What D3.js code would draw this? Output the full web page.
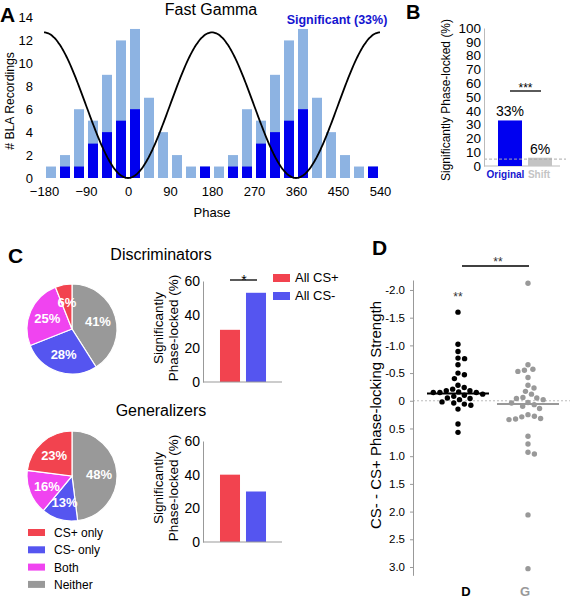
<!DOCTYPE html>
<html><head><meta charset="utf-8">
<script src="https://cdn.jsdelivr.net/npm/d3@7"></script>
<style>body{margin:0;background:#fff} svg{display:block}</style>
</head><body><svg id="c" width="570" height="599"></svg>
<script>
// ---------- DATA ----------
// Panel A
const phaseTicks = [-180,-90,0,90,180,270,360,450,540];
const binCenters = [-165,-135,-105,-75,-45,-15,15,45,75,105,135,165];
const totalCounts = [1,2,6,5,9,12,13,7,4,2,1,1];
const sigCounts   = [0,1,1,3,4,5,6,0,0,0,0,1];
const cycles = [0,360];
const countTicks = [0,2,4,6,8,10,12,14];
const waveAmplitude = 12.7;
// Panel B
const shiftCats = ["Original","Shift"];
const shiftValues = [33,6];
const shiftLabels = ["33%","6%"];
const chanceLevel = 5;
const pctTicks = [0,10,20,30,40,50,60,70,80,90,100];
// Panel C
const pieCats = ["Neither","CS- only","Both","CS+ only"];
const discPie = [41,28,25,6];
const genPie  = [48,13,16,23];
const legendOrder = ["CS+ only","CS- only","Both","Neither"];
const csCats = ["All CS+","All CS-"];
const discBars = [31,53];
const genBars  = [40,30];
const cTicks = [0,20,40,60];
// Panel D
const groups = ["D","G"];
const dValues = [-1.60,-1.02,-0.89,-0.77,-0.76,-0.65,-0.50,-0.47,-0.40,-0.28,-0.24,-0.21,-0.18,-0.18,-0.16,-0.15,-0.15,-0.15,-0.12,-0.10,-0.08,-0.05,-0.04,-0.02,0.02,0.04,0.06,0.08,0.15,0.42,0.57];
const gValues = [-2.12,-0.65,-0.57,-0.55,-0.53,-0.42,-0.28,-0.23,-0.17,-0.12,-0.06,-0.05,-0.04,-0.02,0.03,0.04,0.07,0.10,0.14,0.25,0.28,0.29,0.32,0.33,0.34,0.64,0.78,0.93,0.96,2.06,3.03];
const groupMedians = [-0.13, 0.06];
const strengthTicks = [-2,-1.5,-1,-0.5,0,0.5,1,1.5,2,2.5,3];

// ---------- STYLE ----------
const F = '"Liberation Sans", Arial, Helvetica, sans-serif';
const colLight = "#8db3e2", colDark = "#0000ee";
const pieColor = d3.scaleOrdinal(pieCats, ["#999999","#5555f0","#f044f0","#f2434f"]);
const csColor = d3.scaleOrdinal(csCats, ["#f2434f","#5555f0"]);
const svg = d3.select("#c");

function txt(g, x, y, s, opt={}) {
  return g.append("text").attr("x",x).attr("y",y).text(s)
    .attr("font-family",F).attr("font-size",opt.size||13)
    .attr("font-weight",opt.bold?"bold":"normal")
    .attr("fill",opt.fill||"#000")
    .attr("text-anchor",opt.anchor||"middle");
}
function styleAxis(g, size, color){
  g.attr("font-family",F).attr("font-size",size);
  g.selectAll("text").attr("fill",color||"#000");
}

// ---------- PANEL A ----------
{
  const g = svg.append("g");
  const xA = d3.scaleLinear().domain([-180,540]).range([44,380]);
  const yA = d3.scaleLinear().domain([0,14]).range([178,17.5]);
  const binW = 30;
  const bars = cycles.flatMap(c => binCenters.map((b,i)=>({p:b+c,total:totalCounts[i],sig:sigCounts[i]})));
  const bx = d => xA(d.p-binW/2)+2, bw = d => xA(d.p+binW/2)-xA(d.p-binW/2)-4;
  g.append("g").selectAll("rect").data(bars).join("rect")
    .attr("x",bx).attr("width",bw).attr("y",d=>yA(d.total)).attr("height",d=>yA(0)-yA(d.total))
    .attr("fill",colLight);
  g.append("g").selectAll("rect").data(bars.filter(d=>d.sig>0)).join("rect")
    .attr("x",bx).attr("width",bw).attr("y",d=>yA(d.sig)).attr("height",d=>yA(0)-yA(d.sig))
    .attr("fill",colDark);
  const wave = d3.range(-180,541,2);
  g.append("path").datum(wave)
    .attr("d", d3.line().x(p=>xA(p)).y(p=>yA(waveAmplitude/2*(1-Math.cos(p*Math.PI/180)))).curve(d3.curveBasis))
    .attr("fill","none").attr("stroke","#000").attr("stroke-width",1.8);
  const ax = g.append("g").attr("transform","translate(0,178)")
    .call(d3.axisBottom(xA).tickValues(phaseTicks).tickSize(0).tickPadding(9));
  ax.select(".domain").remove(); styleAxis(ax,13);
  const ay = g.append("g").attr("transform","translate(36,0)")
    .call(d3.axisLeft(yA).tickValues(countTicks).tickSize(0).tickPadding(3));
  ay.select(".domain").remove(); styleAxis(ay,13);
  txt(g, 212, 217, "Phase", {size:13});
  txt(g, 0, 0, "# BLA Recordings", {size:12.2}).attr("transform","translate(14,101) rotate(-90)");
  txt(g, 211, 15, "Fast Gamma", {size:16});
  txt(g, 337, 24, "Significant (33%)", {size:12.5, bold:true, fill:"#1414d0"});
  txt(g, 0, 22, "A", {size:21, bold:true, anchor:"start"});
}

// ---------- PANEL B ----------
{
  const g = svg.append("g");
  const yB = d3.scaleLinear().domain([0,100]).range([166,28]);
  const xB = d3.scaleBand().domain(shiftCats).range([495,555]).paddingInner(0.2).paddingOuter(0.1);
  g.append("line").attr("x1",484).attr("x2",560).attr("y1",yB(0)).attr("y2",yB(0)).attr("stroke","#bbb");
  g.selectAll("rect").data(shiftCats).join("rect")
    .attr("x",d=>xB(d)).attr("width",xB.bandwidth())
    .attr("y",(d,i)=>yB(shiftValues[i])).attr("height",(d,i)=>yB(0)-yB(shiftValues[i]))
    .attr("fill",(d,i)=>i===0?"#0000f0":"#c4c4c4");
  g.append("line").attr("x1",484).attr("x2",566).attr("y1",yB(chanceLevel)).attr("y2",yB(chanceLevel))
    .attr("stroke","#aaa").attr("stroke-dasharray","3,2");
  const ay = g.append("g").attr("transform","translate(484,0)")
    .call(d3.axisLeft(yB).tickValues(pctTicks).tickSize(0).tickSizeOuter(0).tickPadding(3));
  ay.select(".domain").attr("stroke","#bbb"); styleAxis(ay,13.5);
  const labX = [505.5, 539];
  shiftCats.forEach((c,i)=>{
    txt(g, xB(c)+xB.bandwidth()/2, yB(shiftValues[i])-4, shiftLabels[i], {size:14});
    txt(g, labX[i], 178, c, {size:10, bold:true, fill:i===0?"#1414d0":"#c4c4c4"});
  });
  g.append("line").attr("x1",510).attr("x2",541).attr("y1",91).attr("y2",91).attr("stroke","#000").attr("stroke-width",1.3);
  txt(g, 525.5, 92, "***", {size:12});
  txt(g, 0, 0, "Significantly Phase-locked (%)", {size:12}).attr("transform","translate(450,100) rotate(-90)");
  txt(g, 406, 19, "B", {size:20, bold:true, anchor:"start"});
}

// ---------- PANEL C ----------
function pieChart(cx, cy, values){
  const g = svg.append("g").attr("transform",`translate(${cx},${cy})`);
  const r = 45;
  const arcs = d3.pie().sort(null)(values);
  const arc = d3.arc().innerRadius(0).outerRadius(r);
  const lab = d3.arc().innerRadius(27).outerRadius(27);
  g.selectAll("path").data(arcs).join("path").attr("d",arc)
    .attr("fill",(d,i)=>pieColor(pieCats[i])).attr("stroke","#fff").attr("stroke-width",1.2);
  g.selectAll("text").data(arcs).join("text")
    .attr("transform",d=>`translate(${lab.centroid(d)})`).attr("dy","0.36em")
    .attr("text-anchor","middle").attr("font-family",F).attr("font-size",13).attr("font-weight","bold")
    .attr("fill","#fff").text(d=>d.data+"%");
}
function barChart(y0, values){
  const g = svg.append("g");
  const yC = d3.scaleLinear().domain([0,60]).range([y0, y0-101]);
  const xC = d3.scaleBand().domain(csCats).range([217,269]).paddingInner(0.23).paddingOuter(0.115);
  g.selectAll("rect").data(csCats).join("rect")
    .attr("x",d=>xC(d)).attr("width",xC.bandwidth())
    .attr("y",(d,i)=>yC(values[i])).attr("height",(d,i)=>yC(0)-yC(values[i]))
    .attr("fill",d=>csColor(d));
  g.append("line").attr("x1",203).attr("x2",282).attr("y1",yC(0)).attr("y2",yC(0)).attr("stroke","#999");
  const ay = g.append("g").attr("transform","translate(203,0)")
    .call(d3.axisLeft(yC).tickValues(cTicks).tickSize(0).tickSizeOuter(0).tickPadding(3));
  ay.select(".domain").attr("stroke","#999"); styleAxis(ay,14);
  const lt = g.append("text").attr("font-family",F).attr("font-size",13.5).attr("text-anchor","middle")
    .attr("transform",`translate(163,${y0-54}) rotate(-90)`);
  lt.append("tspan").attr("x",0).attr("dy",0).text("Significantly");
  lt.append("tspan").attr("x",0).attr("dy",15).text("Phase-locked (%)");
  return {g, xC, yC};
}
{
  txt(svg, 8, 263, "C", {size:21, bold:true, anchor:"start"});
  txt(svg, 161, 260, "Discriminators", {size:16});
  txt(svg, 161, 416, "Generalizers", {size:16});
  pieChart(72, 329, discPie);
  pieChart(72, 476, genPie);
  const b1 = barChart(382, discBars);
  barChart(542, genBars);
  b1.g.append("line").attr("x1",230).attr("x2",257).attr("y1",280).attr("y2",280).attr("stroke","#000").attr("stroke-width",1.3);
  txt(b1.g, 244, 285, "*", {size:14});
  const lg = svg.append("g");
  csCats.forEach((c,i)=>{
    lg.append("rect").attr("x",273).attr("y",274+i*18).attr("width",17).attr("height",8).attr("fill",csColor(c));
    txt(lg, 295, 282+i*18, c, {size:13, anchor:"start"});
  });
  const lb = svg.append("g");
  legendOrder.forEach((c,i)=>{
    lb.append("rect").attr("x",28).attr("y",529+i*17.3).attr("width",17).attr("height",7).attr("fill",pieColor(c));
    txt(lb, 54, 537+i*17.3, c, {size:12, anchor:"start"});
  });
}

// ---------- PANEL D ----------
{
  const g = svg.append("g");
  const yD = d3.scaleLinear().domain([-2.18,3.15]).range([280,575.3]);
  const xD = d3.scalePoint().domain(groups).range([458,528]);
  g.append("line").attr("x1",413).attr("x2",570).attr("y1",yD(0)).attr("y2",yD(0))
    .attr("stroke","#bbb").attr("stroke-dasharray","2,2");
  const ay = g.append("g").attr("transform","translate(413,0)")
    .call(d3.axisLeft(yD).tickValues(strengthTicks).tickSize(3).tickSizeOuter(0).tickPadding(5)
      .tickFormat(d=>d===0?"0":d.toFixed(1)));
  ay.select(".domain").attr("stroke","#999"); ay.selectAll(".tick line").attr("stroke","#999");
  styleAxis(ay,11.5);
  function swarm(values, diam){
    const idx = values.map((v,i)=>i).sort((a,b)=>values[a]-values[b]);
    const placed = []; const off = new Array(values.length);
    idx.forEach(i=>{
      const y = yD(values[i]);
      const cands = [0];
      placed.forEach(p=>{ const dy = Math.abs(p.y-y); if (dy<diam){ const dx=Math.sqrt(diam*diam-dy*dy); cands.push(p.x+dx,p.x-dx);} });
      cands.sort((a,b)=>Math.abs(a)-Math.abs(b));
      let x = 0;
      for (const c of cands){ if (placed.every(p=>(p.x-c)**2+(p.y-y)**2 >= diam*diam-0.01)){ x=c; break; } }
      placed.push({x,y}); off[i]=x;
    });
    return off;
  }
  const sets = [dValues, gValues];
  const cols = ["#000","#999"];
  sets.forEach((vals,k)=>{
    const off = swarm(vals, 6.6);
    g.append("g").selectAll("circle").data(vals).join("circle")
      .attr("cx",(v,i)=>xD(groups[k])+off[i]).attr("cy",v=>yD(v)).attr("r",2.7).attr("fill",cols[k]);
    g.append("line").attr("x1",xD(groups[k])-31).attr("x2",xD(groups[k])+31)
      .attr("y1",yD(groupMedians[k])).attr("y2",yD(groupMedians[k]))
      .attr("stroke",cols[k]).attr("stroke-width",2);
    txt(g, xD(groups[k])+(k===0?8:-3), 596, groups[k], {size:13, bold:true, fill:k===0?"#000":"#999"});
  });
  txt(g, xD("D"), 301, "**", {size:12, fill:"#333"});
  g.append("line").attr("x1",462).attr("x2",529).attr("y1",266).attr("y2",266).attr("stroke","#000").attr("stroke-width",1.3);
  txt(g, 498, 266, "**", {size:12, fill:"#333"});
  txt(g, 0, 0, "CS- - CS+ Phase-locking Strength", {size:15}).attr("transform","translate(381,415) rotate(-90)");
  txt(g, 372, 255, "D", {size:21, bold:true, anchor:"start"});
}
</script></body></html>
